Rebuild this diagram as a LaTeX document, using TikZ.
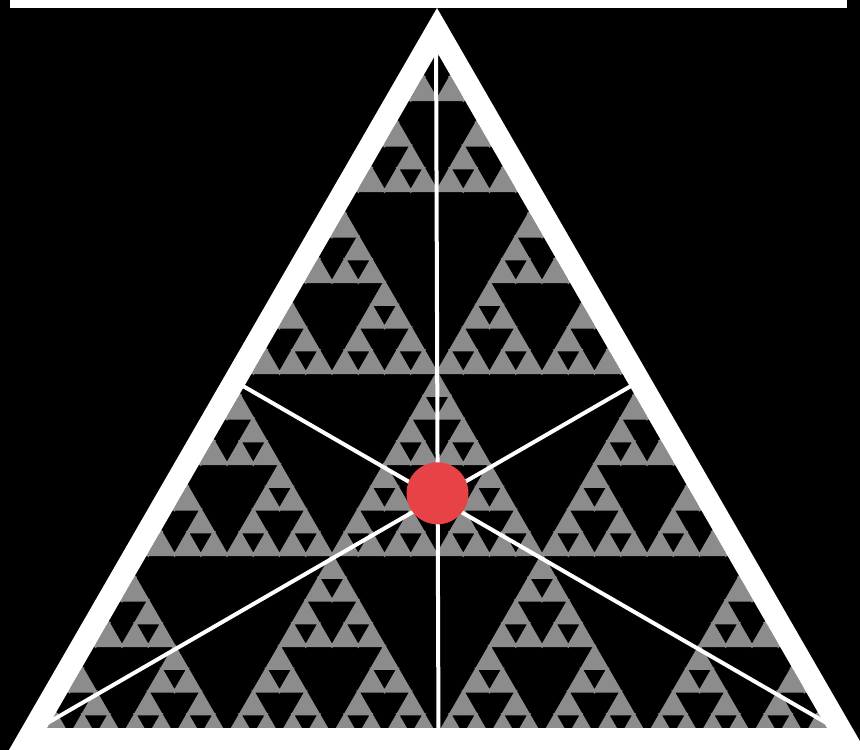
\documentclass[tikz,border=0pt]{standalone}
\definecolor{fracgray}{RGB}{140,140,140}
\definecolor{dotred}{RGB}{231,66,69}
% #1 apex x, #2 apex y, #3 height, #4 half base, #5 depth
\newcommand\sierp[5]{%
  \ifnum#5>0\relax
    \filldraw[hole] (#1-#4/2,#2+#3/2) -- (#1+#4/2,#2+#3/2) -- (#1,#2+#3) -- cycle;
    \begingroup
      \pgfmathsetmacro\sphh{#3/2}%
      \pgfmathsetmacro\spww{#4/2}%
      \pgfmathsetmacro\spxl{#1-#4/2}%
      \pgfmathsetmacro\spxr{#1+#4/2}%
      \pgfmathsetmacro\spym{#2+#3/2}%
      \pgfmathtruncatemacro\spdd{#5-1}%
      \edef\spnext{\noexpand\sierp{#1}{#2}{\sphh}{\spww}{\spdd}%
        \noexpand\sierp{\spxl}{\spym}{\sphh}{\spww}{\spdd}%
        \noexpand\sierp{\spxr}{\spym}{\sphh}{\spww}{\spdd}}%
      \spnext
    \endgroup
  \fi}
\tikzset{
  median/.style={white, line width=4pt},
  rim/.style={white, line width=22pt, line join=miter},
  cellfill/.style={fill=fracgray, draw=fracgray, line width=2.4pt, line join=miter},
  hole/.style={fill=black, draw=fracgray, line width=2.4pt, line join=miter}
}
\begin{document}
\begin{tikzpicture}[x=1pt,y=-1pt]
\fill[black] (0,0) rectangle (860,750);
\useasboundingbox (0,0) rectangle (860,750);
\fill[white] (10,0) rectangle (847,8);
\coordinate (A) at (437,30);
\coordinate (B) at (28,739);
\coordinate (C) at (846,739);
\coordinate (G) at (437,498);
\coordinate (Atop) at (436,30);
\coordinate (Bmid) at (438.5,739);
\coordinate (Lend) at (28,734.2);
\coordinate (Rend) at (846,734.2);
\coordinate (ACmid) at (640,380.8);
\coordinate (ABmid) at (234,380.8);
\coordinate (Dot) at (437.5,493.3);
\begin{scope}
  \clip (A) -- (B) -- (C) -- cycle;
  \foreach \r in {0,...,3}{
    \foreach \c in {0,...,\r}{
      \pgfmathsetmacro\cx{437+(2*\c-\r)*105}
      \pgfmathsetmacro\cy{9+\r*182}
      \filldraw[cellfill] (\cx,\cy) -- (\cx-105,\cy+182) -- (\cx+105,\cy+182) -- cycle;
      \sierp{\cx}{\cy}{182}{105}{3}
    }
  }
\end{scope}
\draw[median] (Atop) -- (Bmid);
\draw[median] (Lend) -- (G) -- (ACmid);
\draw[median] (Rend) -- (G) -- (ABmid);
\draw[rim] (A) -- (B) -- (C) -- cycle;
\fill[dotred] (Dot) circle (31pt);
\end{tikzpicture}
\end{document}
